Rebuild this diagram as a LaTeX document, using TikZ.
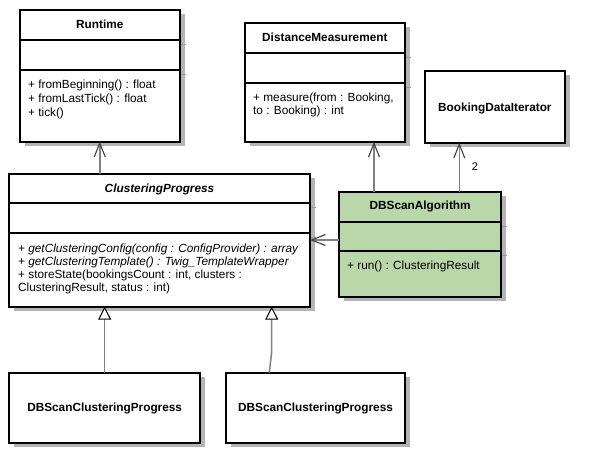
\documentclass[tikz,border=0pt]{standalone}
\usepackage{fontspec}
\setmainfont{Liberation Sans}
\usetikzlibrary{arrows.meta,shadows,calc}
\definecolor{shadowgray}{HTML}{B4B4B4}
\definecolor{shsepgray}{HTML}{999999}
\definecolor{linegray}{HTML}{808080}
\definecolor{algogreen}{HTML}{B9D7A8}
\tikzset{
  cls/.style={draw=black, line width=2pt, fill=white, rectangle, inner sep=0pt, outer sep=0pt,
    drop shadow={shadow xshift=5pt, shadow yshift=-4pt, fill=shadowgray, opacity=1}},
  sepline/.style={draw=black, line width=2pt},
  shsep/.style={draw=shsepgray, line width=1pt},
  txt/.style={anchor=base west, inner sep=0pt, font=\fontsize{11.8}{13}\selectfont},
  ttl/.style={anchor=base, inner sep=0pt, font=\fontsize{11.8}{13}\selectfont\bfseries},
  lbl/.style={anchor=base, inner sep=0pt, font=\fontsize{11}{13}\selectfont},
  dep/.style={draw=linegray, line width=1.5pt,
    -{Straight Barb[length=14pt,width=11pt,line width=1.1pt,color=black!75]}},
  inh/.style={draw=linegray, line width=1.5pt,
    -{Triangle[open,length=13pt,width=13pt,line width=1pt,color=black,fill=white]}},
}
\newcommand\clsseps[3]{%
  \draw[sepline] ([yshift=-#2]#1.north west) -- ([yshift=-#2]#1.north east);
  \draw[sepline] ([yshift=-#3]#1.north west) -- ([yshift=-#3]#1.north east);
  \draw[shsep] ([yshift=-#2-4.5pt,xshift=1pt]#1.north east) -- ++(4.5,0);
  \draw[shsep] ([yshift=-#3-4.5pt,xshift=1pt]#1.north east) -- ++(4.5,0);
}
\begin{document}
\begin{tikzpicture}[x=1pt,y=-1pt]
\useasboundingbox[fill=white] (0,0) rectangle (591,463);

% Runtime
\node[cls, minimum width=160.5pt, minimum height=132pt] (rt) at (99.75,75.5) {};
\clsseps{rt}{30pt}{60.5pt}
\node[ttl] (rtT) at (99.75,28.7) {Runtime};
\node[txt] (rtM1) at (28,88.3) {+ fromBeginning() : float};
\node[txt] (rtM2) at (28,102.3) {+ fromLastTick() : float};
\node[txt] (rtM3) at (28,116) {+ tick()};

% DistanceMeasurement
\node[cls, minimum width=160.3pt, minimum height=119pt] (dm) at (324.85,82.2) {};
\clsseps{dm}{30pt}{60pt}
\node[ttl] (dmT) at (324.85,41) {DistanceMeasurement};
\node[txt] (dmM1) at (253,101.7) {+ measure(from : Booking,};
\node[txt] (dmM2) at (253,114.3) {to : Booking) : int};

% BookingDataIterator
\node[cls, minimum width=140.3pt, minimum height=71.4pt] (bdi) at (494.85,107) {};
\node[ttl] (bdiT) at (494.85,111) {BookingDataIterator};

% ClusteringProgress
\node[cls, minimum width=301pt, minimum height=132.7pt] (cp) at (159.5,240.35) {};
\clsseps{cp}{29.3pt}{59.3pt}
\node[ttl, font=\fontsize{11.8}{13}\selectfont\bfseries\itshape] (cpT) at (159.5,192.7) {ClusteringProgress};
\node[txt, font=\fontsize{11.8}{13}\selectfont\itshape] (cpM1) at (18,252) {+ getClusteringConfig(config : ConfigProvider) : array};
\node[txt, font=\fontsize{11.8}{13}\selectfont\itshape] (cpM2) at (18,265) {+ getClusteringTemplate() : Twig\_TemplateWrapper};
\node[txt] (cpM3) at (18,278) {+ storeState(bookingsCount : int, clusters :};
\node[txt] (cpM4) at (18,291) {ClusteringResult, status : int)};

% DBScanAlgorithm
\node[cls, fill=algogreen, minimum width=161.7pt, minimum height=105.6pt] (dbs) at (420.15,244.5) {};
\clsseps{dbs}{30pt}{59.3pt}
\node[ttl] (dbsT) at (420.15,209) {DBScanAlgorithm};
\node[txt] (dbsM1) at (347,269.3) {+ run() : ClusteringResult};

% DBScanClusteringProgress boxes
\node[cls, minimum width=190.7pt, minimum height=70.6pt] (dcpa) at (104.65,408) {};
\node[ttl] (dcpaT) at (104.65,411.7) {DBScanClusteringProgress};
\node[cls, minimum width=179pt, minimum height=70.6pt] (dcpb) at (315.5,408) {};
\node[ttl] (dcpbT) at (315.5,411.7) {DBScanClusteringProgress};

% connectors
\draw[dep] (rt.south |- cp.north) -- (rt.south);
\coordinate (a1) at ([xshift=-46.15pt]dbs.north);
\draw[dep] (a1) -- (a1 |- dm.south);
\coordinate (a2) at ([xshift=39.15pt]dbs.north);
\draw[dep] (a2) -- (a2 |- bdi.south);
\node[lbl] (two) at (475,170.7) {2};
\coordinate (a3) at ([yshift=4.5pt]dbs.west);
\draw[dep] (a3) -- (a3 -| cp.east);
\draw[inh] (dcpa.north) -- (dcpa.north |- cp.south);
\coordinate (a4) at ([xshift=-46.2pt]dcpb.north);
\coordinate (a5) at ([xshift=-43.8pt,yshift=21pt]dcpb.north);
\draw[inh] (a4) -- (a5) -- (a5 |- cp.south);
\end{tikzpicture}
\end{document}
